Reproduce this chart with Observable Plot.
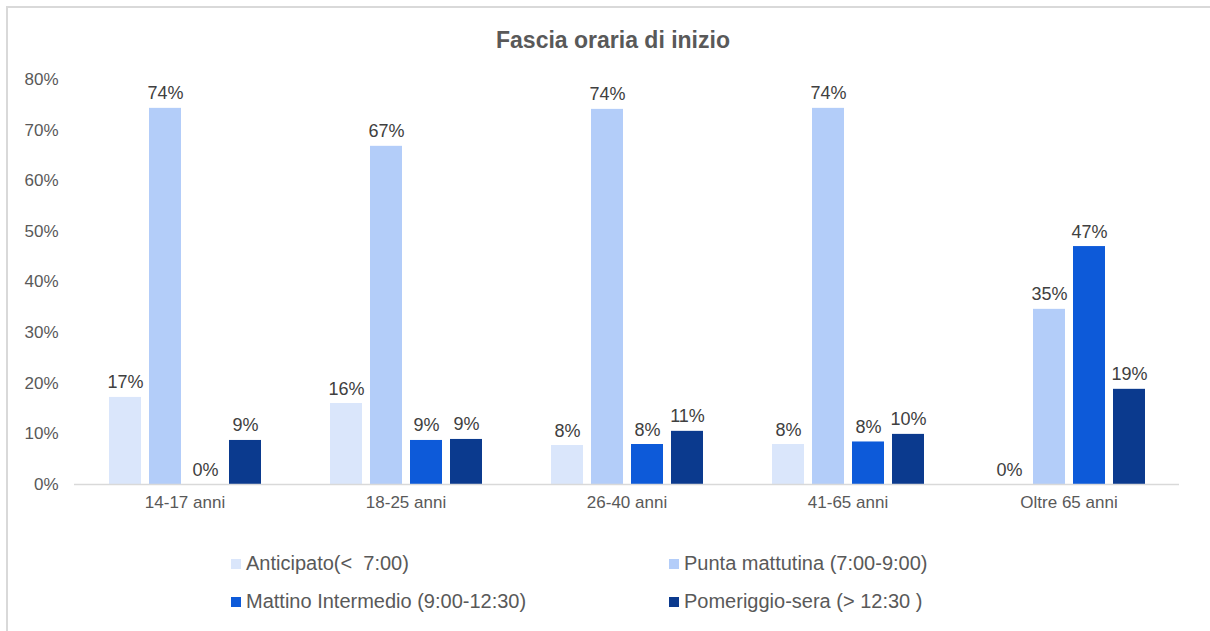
<!DOCTYPE html>
<html>
<head>
<meta charset="utf-8">
<script src="https://cdn.jsdelivr.net/npm/d3@7"></script>
<script src="https://cdn.jsdelivr.net/npm/@observablehq/plot@0.6"></script>
<style>
  html, body { margin: 0; padding: 0; background: #fff; width: 1210px; height: 631px; overflow: hidden; }
  #frame { position: absolute; left: 6px; top: 6px; width: 1300px; height: 700px; border-left: 2px solid #d9d9d9; border-top: 2px solid #d9d9d9; }
  #title { position: absolute; left: 0; width: 1226px; top: 27px; text-align: center; font-family: "Liberation Sans", Arial, sans-serif; font-weight: bold; font-size: 23px; color: #595959; }
  #chart { position: absolute; left: 0; top: 60px; }
  .lg { position: absolute; font-family: "Liberation Sans", Arial, sans-serif; font-size: 20px; color: #595959; white-space: pre; display: flex; align-items: center; }
  .sw { width: 10px; height: 10px; margin-right: 5px; display: inline-block; }
</style>
</head>
<body>
<div id="frame"></div>
<div id="title">Fascia oraria di inizio</div>
<div id="chart"></div>
<div id="legend"></div>
<script>
const groups = ["14-17 anni", "18-25 anni", "26-40 anni", "41-65 anni", "Oltre 65 anni"];
const series = ["Anticipato(<  7:00)", "Punta mattutina (7:00-9:00)", "Mattino Intermedio (9:00-12:30)", "Pomeriggio-sera (> 12:30 )"];
const colors = ["#dae6fb", "#b3cdf9", "#0d5ad9", "#0b3a8e"];
const anticipato = [17.2, 16.0, 7.7, 7.9, 0];
const punta = [74.3, 66.8, 74.1, 74.3, 34.6];
const mattino = [0, 8.7, 7.9, 8.4, 47.0];
const pomeriggio = [8.7, 8.9, 10.5, 9.9, 18.8];
const yTicks = [0, 10, 20, 30, 40, 50, 60, 70, 80];

const valuesBySeries = [anticipato, punta, mattino, pomeriggio];
const data = groups.flatMap((g, i) => series.map((s, j) => ({group: g, series: s, value: valuesBySeries[j][i]})));

const chart = Plot.plot({
  width: 1210,
  height: 470,
  marginLeft: 72,
  marginRight: 30,
  marginTop: 19,
  marginBottom: 46,
  style: {fontFamily: "'Liberation Sans', Arial, sans-serif", fontSize: "17px", color: "#595959", background: "transparent"},
  fx: {domain: groups, padding: 0, label: null, tickSize: 0, tickPadding: 11},
  x: {domain: series, paddingInner: 0.2, paddingOuter: 0.85, axis: null},
  y: {domain: [0, 80], ticks: yTicks, tickFormat: d => d + "%", tickSize: 0, tickPadding: 16, label: null},
  color: {domain: series, range: colors},
  marks: [
    Plot.barY(data, {fx: "group", x: "series", y: "value", fill: "series"}),
    Plot.ruleY([0], {stroke: "#d9d9d9", strokeWidth: 1.5}),
    Plot.text(data, {fx: "group", x: "series", y: "value", text: d => Math.round(d.value) + "%", lineAnchor: "bottom", dy: -9, fill: "#404040", fontSize: 18})
  ]
});
document.getElementById("chart").appendChild(chart);

const legendPos = [[231, 552], [669, 552], [231, 590], [669, 590]];
const legend = document.getElementById("legend");
series.forEach((s, i) => {
  const item = document.createElement("div");
  item.className = "lg";
  item.style.left = legendPos[i][0] + "px";
  item.style.top = legendPos[i][1] + "px";
  const sw = document.createElement("span");
  sw.className = "sw";
  sw.style.background = colors[i];
  item.appendChild(sw);
  item.appendChild(document.createTextNode(s));
  legend.appendChild(item);
});
</script>
</body>
</html>
